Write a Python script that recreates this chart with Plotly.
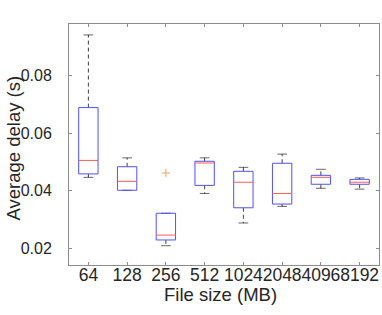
import plotly.graph_objects as go

# ---- data ----
sizes = ["64", "128", "256", "512", "1024", "2048", "4096", "8192"]
upper = [0.0942, 0.0514, 0.0321, 0.0514, 0.0481, 0.0527, 0.0474, 0.0444]
q3 = [0.0689, 0.0483, 0.0321, 0.0502, 0.0467, 0.0495, 0.0453, 0.0439]
median = [0.0505, 0.0432, 0.0245, 0.0496, 0.0429, 0.0390, 0.0446, 0.0429]
q1 = [0.0458, 0.0401, 0.0228, 0.0418, 0.0340, 0.0353, 0.0422, 0.0422]
lower = [0.0446, 0.0401, 0.0208, 0.0390, 0.0287, 0.0345, 0.0408, 0.0405]
outlier_cat = ["256"]
outlier_val = [0.0461]
yticks = [0.02, 0.04, 0.06, 0.08]

pos = list(range(1, len(sizes) + 1))
hw = 0.25   # half box width
cw = 0.125  # half whisker-cap width

bx, by, mx, my, wx, wy, cx, cy = [], [], [], [], [], [], [], []
for p, u, a, m, b, l in zip(pos, upper, q3, median, q1, lower):
    bx += [p - hw, p + hw, p + hw, p - hw, p - hw, None]
    by += [b, b, a, a, b, None]
    mx += [p - hw, p + hw, None]
    my += [m, m, None]
    wx += [p, p, None, p, p, None]
    wy += [a, u, None, b, l, None]
    cx += [p - cw, p + cw, None, p - cw, p + cw, None]
    cy += [u, u, None, l, l, None]

fig = go.Figure()
fig.add_trace(go.Scatter(x=wx, y=wy, mode="lines",
                         line=dict(color="rgba(0,0,0,0.75)", width=1, dash="4px,3px"),
                         hoverinfo="skip"))
fig.add_trace(go.Scatter(x=cx, y=cy, mode="lines",
                         line=dict(color="rgba(0,0,0,0.6)", width=1), hoverinfo="skip"))
fig.add_trace(go.Scatter(x=bx, y=by, mode="lines",
                         line=dict(color="rgb(80,80,255)", width=1), hoverinfo="skip"))
fig.add_trace(go.Scatter(x=mx, y=my, mode="lines",
                         line=dict(color="rgb(255,90,90)", width=1), hoverinfo="skip"))
fig.add_trace(go.Scatter(x=[pos[sizes.index(c)] for c in outlier_cat], y=outlier_val,
                         mode="markers",
                         marker=dict(symbol="cross-thin-open", size=6,
                                     line=dict(color="rgb(255,40,40)", width=1)),
                         hoverinfo="skip"))

font_family = "Liberation Sans, Arial, Helvetica, sans-serif"
axis_common = dict(showline=True, linecolor="#8c8c8c", linewidth=1, mirror="allticks",
                   ticks="inside", ticklen=3, tickcolor="#8c8c8c", showgrid=False,
                   zeroline=False, tickangle=0)

fig.update_layout(
    width=382, height=315,
    margin=dict(l=69, r=3, t=24, b=50, autoexpand=False),
    paper_bgcolor="white", plot_bgcolor="white",
    showlegend=False,
    xaxis=dict(range=[0.5, 8.5], tickvals=pos, ticktext=sizes,
               ticklabelstandoff=-6, automargin=False,
               tickfont=dict(family=font_family, size=17.5, color="#262626"),
               **axis_common),
    yaxis=dict(range=[0.01408, 0.0980], tickvals=yticks,
               ticktext=[f"{v:.2f}" for v in yticks],
               ticklabelstandoff=13, automargin=False,
               tickfont=dict(family=font_family, size=16, color="#262626"),
               **axis_common),
    annotations=[
        dict(text="Average delay (s)", xref="paper", yref="paper", x=0, y=0.5,
             xanchor="center", yanchor="middle", xshift=-56, yshift=-4,
             textangle=-90, showarrow=False,
             font=dict(family=font_family, size=18.5, color="#262626")),
        dict(text="File size (MB)", xref="paper", yref="paper", x=0.5, y=0,
             xanchor="center", yanchor="middle", xshift=-4, yshift=-29,
             showarrow=False,
             font=dict(family=font_family, size=18.5, color="#262626")),
    ],
)

fig.write_html("out.html", config={"displayModeBar": False},
               post_script="document.body.style.margin='0px';")
